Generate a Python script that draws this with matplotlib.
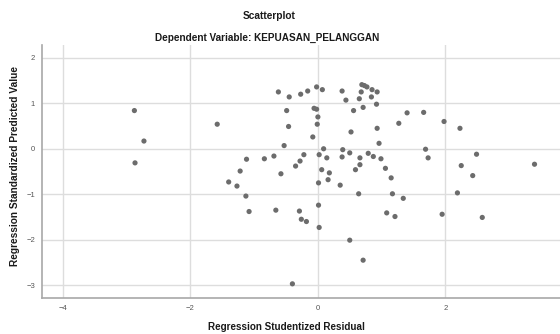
import numpy as np
import matplotlib.pyplot as plt

plt.rcParams['font.family'] = ['Liberation Sans', 'DejaVu Sans']

# studentized residual (x) vs standardized predicted value (y)
resid = np.array([
    -2.88, -2.73, -2.87, -1.58, -0.62, -0.45, -0.49, -0.46, -0.53, -1.12,
    -0.84, -0.69, -1.22, -0.58, -0.35, -0.28, -1.40, -1.27, -0.27, -0.16,
    -0.02, 0.07, 0.38, 0.69, 0.73, 0.77, 0.85, 0.93, 0.68, 0.44,
    0.65, 0.84, 0.92, 0.71, 0.56, -0.06, -0.02, 0.00, -0.01, -0.08,
    0.52, 0.93, 0.96, 1.27, 1.40, 1.66, 1.98, 2.23, 0.09, 0.39,
    0.38, 0.50, -0.22, 0.02, 0.14, 0.66, 0.79, 0.87, 0.99, 1.69,
    1.73, 2.49, 3.40, 0.06, 0.18, 0.66, 0.59, 1.06, 1.15, 2.25,
    2.43, 0.01, 0.16, 0.35, 0.64, 1.17, 1.34, 2.19, -0.29, 0.01,
    -0.26, -0.18, 0.02, 1.08, 1.21, 1.95, 2.58, 0.50, 0.71, -0.40,
    -1.13, -1.08, -0.66,
])
pred = np.array([
    0.84, 0.17, -0.31, 0.54, 1.25, 1.14, 0.84, 0.49, 0.07, -0.23,
    -0.22, -0.16, -0.49, -0.55, -0.38, -0.27, -0.73, -0.82, 1.20, 1.27,
    1.36, 1.30, 1.27, 1.41, 1.39, 1.36, 1.30, 1.25, 1.25, 1.07,
    1.10, 1.14, 0.98, 0.91, 0.84, 0.89, 0.87, 0.70, 0.54, 0.26,
    0.37, 0.45, 0.12, 0.56, 0.79, 0.80, 0.60, 0.45, 0.00, -0.02,
    -0.18, -0.09, -0.13, -0.13, -0.20, -0.20, -0.10, -0.17, -0.22, -0.01,
    -0.20, -0.12, -0.34, -0.46, -0.53, -0.35, -0.46, -0.43, -0.64, -0.37,
    -0.59, -0.75, -0.68, -0.80, -0.99, -0.99, -1.09, -0.97, -1.37, -1.24,
    -1.55, -1.60, -1.73, -1.41, -1.49, -1.44, -1.51, -2.01, -2.45, -2.97,
    -1.04, -1.38, -1.35,
])

xticks = [-4, -2, 0, 2]
yticks = [-3, -2, -1, 0, 1, 2]

fig = plt.figure(figsize=(5.6, 3.34), dpi=100)
ax = fig.add_axes([0.075, 0.108, 0.925, 0.757])

ax.scatter(resid, pred, s=14, color='#6c6c6c', edgecolors='none', zorder=3)

ax.set_xlim(-4.33, 3.80)
ax.set_ylim(-3.28, 2.28)
ax.set_xticks(xticks)
ax.set_yticks(yticks)
ax.tick_params(axis='x', length=0, labelsize=5.5, labelcolor='#555555', pad=5)
ax.tick_params(axis='y', length=0, labelsize=5.5, labelcolor='#555555', pad=5)
ax.grid(True, color='#dddddd', lw=1)
ax.set_axisbelow(True)

for s in ['top', 'right']:
    ax.spines[s].set_visible(False)
for s in ['left', 'bottom']:
    ax.spines[s].set_color('#a8a8a8')
    ax.spines[s].set_linewidth(1.2)

fig.text(286/560, 1 - 327/334, 'Regression Studentized Residual', ha='center', va='center',
         fontsize=7.1, fontweight='bold', color='#1a1a1a')
fig.text(15/560, 1 - 166/334, 'Regression Standardized Predicted Value', ha='center', va='center',
         rotation=90, fontsize=7.3, fontweight='bold', color='#1a1a1a')

fig.text(269/560, 1 - 16/334, 'Scatterplot', ha='center', va='center', fontsize=7.3,
         fontweight='bold', color='#1a1a1a')
fig.text(267/560, 1 - 38/334, 'Dependent Variable: KEPUASAN_PELANGGAN', ha='center', va='center',
         fontsize=7.2, fontweight='bold', color='#1a1a1a')

fig.savefig('out.png', dpi=100)
